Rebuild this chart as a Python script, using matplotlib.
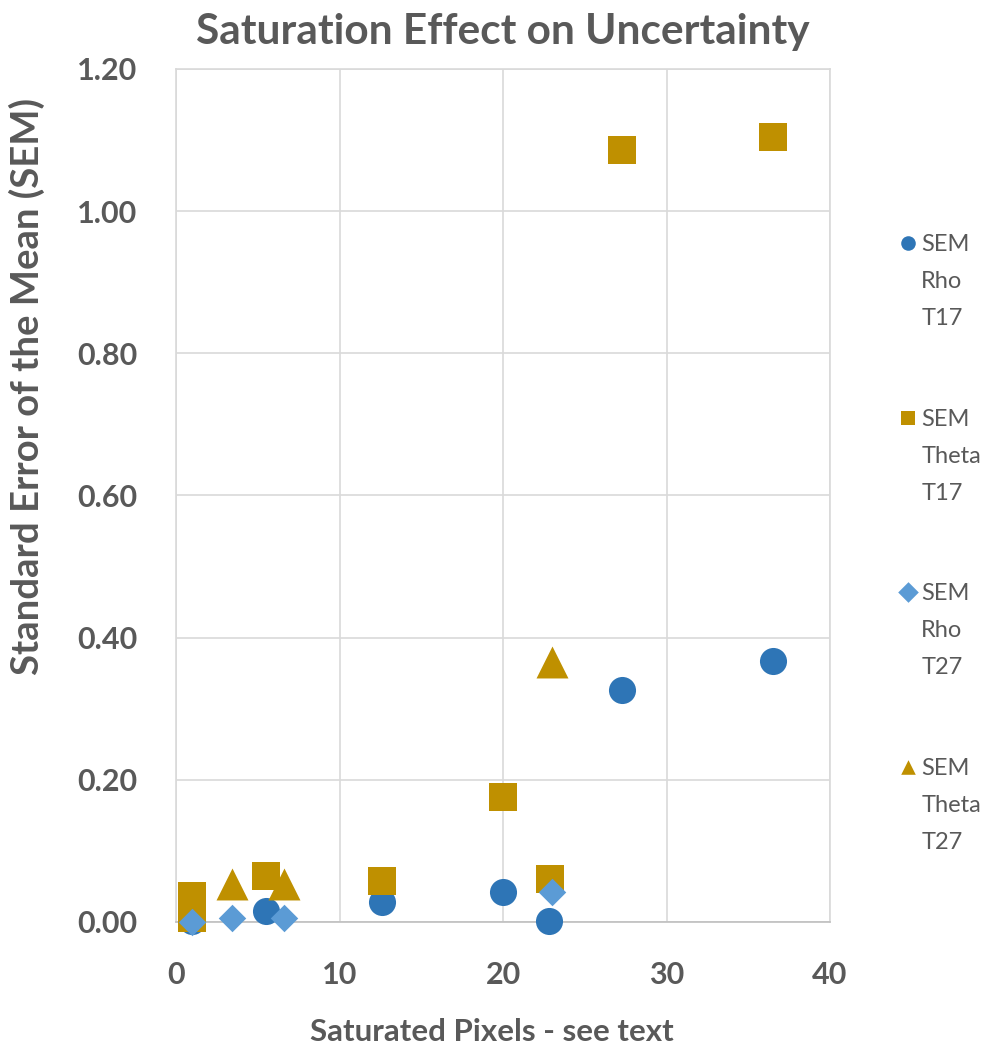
"""Saturation effect on uncertainty: SEM vs saturated pixels."""

import matplotlib
matplotlib.use("Agg")
import matplotlib.pyplot as plt

# data
rho_t17_x = [1.0, 5.5, 12.6, 20.0, 22.8, 27.3, 36.5]
rho_t17_y = [0.002, 0.015, 0.028, 0.042, 0.002, 0.327, 0.367]

theta_t17_x = [1.0, 1.0, 5.5, 12.6, 20.0, 22.9, 27.3, 36.5]
theta_t17_y = [0.037, 0.006, 0.065, 0.058, 0.176, 0.061, 1.086, 1.104]

rho_t27_x = [1.0, 3.4, 6.6, 23.0]
rho_t27_y = [0.000, 0.006, 0.005, 0.042]

theta_t27_x = [3.4, 6.6, 23.0]
theta_t27_y = [0.053, 0.053, 0.366]

x_ticks = [0, 10, 20, 30, 40]
y_ticks = [0.0, 0.2, 0.4, 0.6, 0.8, 1.0, 1.2]

BLUE = "#2E75B6"
GOLD = "#BF9000"
LIGHT_BLUE = "#5B9BD5"
TEXT = "#595959"
GRID = "#D9D9D9"

plt.rcParams["font.family"] = ["Lato", "DejaVu Sans"]

fig = plt.figure(figsize=(9.95, 10.55), dpi=100)
ax = fig.add_axes([0.1769, 0.1261, 0.6573, 0.8085])

series = [
    (rho_t17_x, rho_t17_y, "o", BLUE, 19.5, ["SEM", "Rho", "T17"]),
    (theta_t17_x, theta_t17_y, "s", GOLD, 20, ["SEM", "Theta", "T17"]),
    (rho_t27_x, rho_t27_y, "D", LIGHT_BLUE, 14, ["SEM", "Rho", "T27"]),
    (theta_t27_x, theta_t27_y, "^", GOLD, 23, ["SEM", "Theta", "T27"]),
]

handles = []
for i, (xs, ys, marker, color, size, words) in enumerate(series):
    h = ax.scatter(xs, ys, marker=marker, s=size ** 2, color=color,
                   linewidths=0, label=words[0], clip_on=False, zorder=3 + i)
    handles.append(h)

ax.set_xlim(0, 40)
ax.set_ylim(0, 1.2)
ax.set_xticks(x_ticks)
ax.set_yticks(y_ticks)
ax.set_yticklabels([f"{v:.2f}" for v in y_ticks])
ax.tick_params(length=0, labelsize=22, labelcolor=TEXT)
ax.tick_params(axis="x", pad=28)
ax.tick_params(axis="y", pad=28)
for lbl in ax.get_xticklabels() + ax.get_yticklabels():
    lbl.set_fontweight("bold")

ax.grid(True, color=GRID, linewidth=1.2)
ax.set_axisbelow(True)
for side in ["top", "right", "left"]:
    ax.spines[side].set_color(GRID)
    ax.spines[side].set_linewidth(1.2)
ax.spines["bottom"].set_color("#BFBFBF")
ax.spines["bottom"].set_linewidth(1.2)

ax.set_title("Saturation Effect on Uncertainty", fontsize=30.5, fontweight="bold",
             color=TEXT, pad=18)
ax.set_xlabel("Saturated Pixels - see text", fontsize=22.5, fontweight="bold",
              color=TEXT)
ax.xaxis.set_label_coords(0.483, -0.1125)
ax.set_ylabel("Standard Error of the Mean (SEM)", fontsize=27.5, fontweight="bold",
              color=TEXT)
ax.yaxis.set_label_coords(-0.20, 0.628)

leg = fig.legend(handles=handles, loc="upper left",
                 bbox_to_anchor=(0.889, 0.789), frameon=False,
                 fontsize=17, labelcolor=TEXT, labelspacing=6.5,
                 handletextpad=0.05, borderpad=0, handlelength=1.0,
                 scatteryoffsets=[0.5])
for h in leg.legend_handles:
    h.set_sizes([110])

# remaining legend lines below each "SEM"
fig.canvas.draw()
line_px = 37
for t, (*_, words) in zip(leg.get_texts(), series):
    bx, by = t.get_transform().transform(t.get_position())
    for k, word in enumerate(words[1:], start=1):
        fx, fy = fig.transFigure.inverted().transform((bx, by - k * line_px))
        fig.text(fx, fy, word, fontsize=17, color=TEXT, va="baseline", ha="left")

fig.savefig("out.png", dpi=100)
